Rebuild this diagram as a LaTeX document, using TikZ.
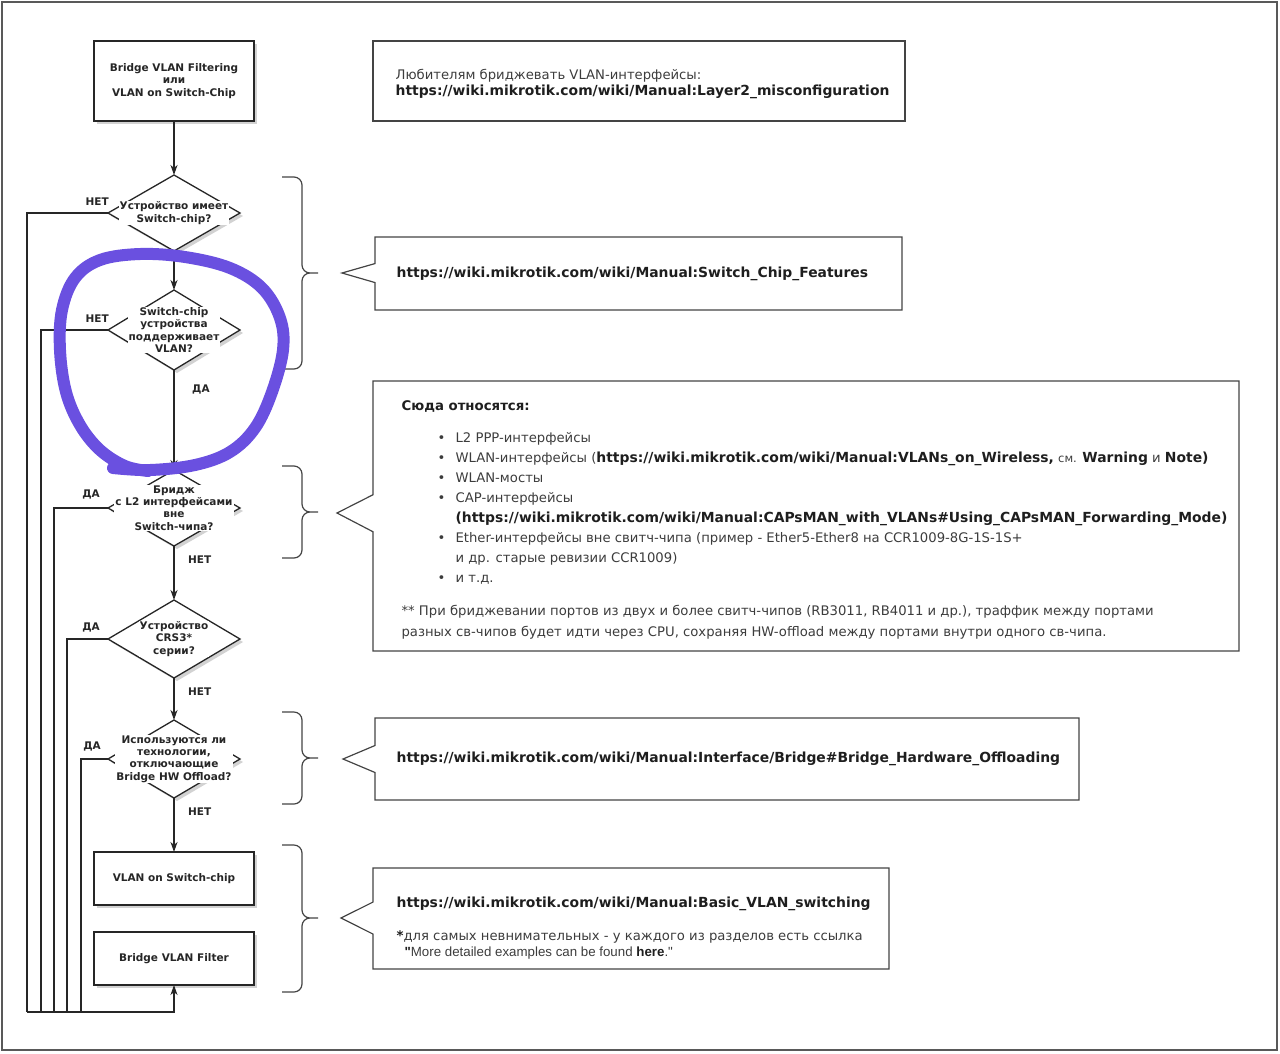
\documentclass[tikz,border=0pt]{standalone}
\usepackage{fontspec}
\setmainfont{DejaVu Sans}
\newfontfamily\arialfont{Liberation Sans}
\usetikzlibrary{positioning, arrows.meta, shapes.geometric, shapes.callouts, shadows}
\definecolor{lineGray}{HTML}{444444}
\definecolor{textGray}{HTML}{3C3C3C}
\definecolor{linkBlack}{HTML}{1E1E1E}
\definecolor{markerViolet}{HTML}{6A50E0}
\newcommand{\flowfont}{\fontsize{10.5}{12.3}\selectfont\bfseries}
\newcommand{\notefont}{\fontsize{13.2}{20}\selectfont}
\newcommand{\wlink}[1]{{\fontsize{13.9}{20}\selectfont\textbf{\color{linkBlack}#1}}}
\newcommand{\wbold}[1]{{\fontsize{13.3}{20}\selectfont\textbf{\color{linkBlack}#1}}}
\tikzstyle{process} =[draw=black!85, line width=1.5pt, outer sep=0pt, fill=white, minimum width=160pt, align=center, font=\flowfont, text=black!85, drop shadow={shadow xshift=3pt, shadow yshift=-3pt, fill=black!35, opacity=0.5}]
\tikzstyle{decision} =[diamond, draw=black!85, line width=1.3pt, outer sep=0pt, fill=white, minimum width=132pt, minimum height=78pt, inner sep=0pt, drop shadow={shadow xshift=3pt, shadow yshift=-3pt, fill=black!35, opacity=0.5}]
\tikzstyle{dtext} =[fill=white, inner sep=1pt, align=center, font=\flowfont, text=black!85]
\tikzstyle{answer} =[inner sep=0pt, font=\flowfont, text=black!85]
\tikzstyle{flow} =[-{Stealth[length=10pt, width=7pt, inset=3pt]}, line width=1.2pt, black!85]
\tikzstyle{wire} =[line width=1.2pt, black!85]
\tikzstyle{note} =[draw=lineGray, line width=1.2pt]
\tikzstyle{notetext} =[inner sep=0pt, align=left, font=\notefont, text=textGray]
\tikzstyle{curly} =[draw=lineGray, line width=1.2pt, rounded corners=8pt]

\begin{document}
\begin{tikzpicture}[x=1pt, y=-1pt]
\useasboundingbox (0,0) rectangle (1280,1053);
\draw[draw=black!65, line width=1.5pt] (2,2) rectangle (1277,1050);

\node (start) [process, minimum height=80pt] at (174,81) {Bridge VLAN Filtering\\или\\VLAN on Switch-Chip};

\node (hasChip) [decision, minimum height=76pt, below=54pt of start] {};
\node (chipVlan) [decision, minimum height=80pt, below=39pt of hasChip] {};
\node (bridgeL2) [decision, minimum height=76pt, below=100pt of chipVlan] {};
\node (crsSeries) [decision, below=54pt of bridgeL2] {};
\node (hwOffload) [decision, below=42pt of crsSeries] {};

\node (vlanChip) [process, minimum height=53pt, below=54pt of hwOffload] {VLAN on Switch-chip};
\node (vlanFilter) [process, minimum height=53pt, below=27pt of vlanChip] {Bridge VLAN Filter};

\draw[flow] (start) -- (hasChip);
\draw[flow] (hasChip) -- (chipVlan);
\draw[flow] (chipVlan) -- (bridgeL2);
\draw[flow] (bridgeL2) -- (crsSeries);
\draw[flow] (crsSeries) -- (hwOffload);
\draw[flow] (hwOffload) -- (vlanChip);

% return lines to Bridge VLAN Filter
\coordinate (busA) at (27,1012);
\coordinate (busB) at (41,1012);
\coordinate (busC) at (54,1012);
\coordinate (busD) at (67,1012);
\coordinate (busE) at (81,1012);
\draw[wire] (hasChip.west) -| (busA);
\draw[wire] (chipVlan.west) -| (busB);
\draw[wire] (bridgeL2.west) -| (busC);
\draw[wire] (crsSeries.west) -| (busD);
\draw[wire] (hwOffload.west) -| (busE);
\draw[flow] (busA) -| (vlanFilter.south);

\node (hasChipText) [dtext] at (hasChip) {Устройство имеет\\Switch-chip?};
\node (chipVlanText) [dtext] at (chipVlan) {Switch-chip\\устройства\\поддерживает\\VLAN?};
\node (bridgeL2Text) [dtext] at (bridgeL2) {Бридж\\с L2 интерфейсами\\вне\\Switch-чипа?};
\node (crsSeriesText) [dtext] at (crsSeries) {Устройство\\CRS3*\\серии?};
\node (hwOffloadText) [dtext] at (hwOffload) {Используются ли\\технологии,\\отключающие\\Bridge HW Offload?};

\node [answer, above left=7pt and -1pt of hasChip.west] {НЕТ};
\node [answer, above left=7pt and -1pt of chipVlan.west] {НЕТ};
\node [answer, above left=9pt and 8pt of bridgeL2.west] {ДА};
\node [answer, above left=7pt and 8pt of crsSeries.west] {ДА};
\node [answer, above left=8pt and 7pt of hwOffload.west] {ДА};
\node [answer, below right=15pt and 18pt of chipVlan.south] {ДА};
\node [answer, below right=10pt and 14pt of bridgeL2.south] {НЕТ};
\node [answer, below right=10pt and 14pt of crsSeries.south] {НЕТ};
\node [answer, below right=10pt and 14pt of hwOffload.south] {НЕТ};

% braces
\draw[curly] (282,177) -| (302,273) -- (318,273) (282,369) -| (302,273) -- (318,273);
\draw[curly] (282,466) -| (302,512) -- (318,512) (282,558) -| (302,512) -- (318,512);
\draw[curly] (282,712) -| (302,758) -- (318,758) (282,804) -| (302,758) -- (318,758);
\draw[curly] (282,845) -| (302,918) -- (318,918) (282,992) -| (302,918) -- (318,918);

% notes
\node (loopNote) [note, minimum width=532pt, minimum height=80pt] at (639,81) {};
\node (loopNoteText) [notetext, anchor=west] at ([xshift=23pt, yshift=-3pt]loopNote.west) {Любителям бриджевать VLAN-интерфейсы:\\[-4pt]\wlink{https://wiki.mikrotik.com/wiki/Manual:Layer2\_misconfiguration}};

\coordinate (chipTip) at (342,273);
\node (chipNote) [note, rectangle callout, minimum width=527pt, minimum height=73pt, callout absolute pointer={(chipTip)}, callout pointer width=19pt] at (638.5,273.5) {};
\node (chipNoteText) [notetext, right=22pt of chipNote.west] {\wlink{https://wiki.mikrotik.com/wiki/Manual:Switch\_Chip\_Features}};

\coordinate (relTip) at (337,513);
\node (relNote) [note, rectangle callout, minimum width=866pt, minimum height=270pt, callout absolute pointer={(relTip)}, callout pointer width=37pt] at (806,516) {};
\node (relNoteText) [notetext, anchor=north west] at ([xshift=29pt, yshift=-20pt]relNote.north west) {\wbold{Сюда относятся:}\\[12pt]
\hspace*{36pt}\makebox[18pt][l]{\textbullet}L2 PPP-интерфейсы\\
\hspace*{36pt}\makebox[18pt][l]{\textbullet}WLAN-интерфейсы (\wlink{https://wiki.mikrotik.com/wiki/Manual:VLANs\_on\_Wireless,} {\fontsize{11.5}{20}\selectfont см.} \wlink{Warning} и \wlink{Note)}\\
\hspace*{36pt}\makebox[18pt][l]{\textbullet}WLAN-мосты\\
\hspace*{36pt}\makebox[18pt][l]{\textbullet}CAP-интерфейсы\\
\hspace*{54pt}\wlink{(https://wiki.mikrotik.com/wiki/Manual:CAPsMAN\_with\_VLANs\#Using\_CAPsMAN\_Forwarding\_Mode)}\\
\hspace*{36pt}\makebox[18pt][l]{\textbullet}Ether-интерфейсы вне свитч-чипа (пример - Ether5-Ether8 на CCR1009-8G-1S-1S+\\
\hspace*{54pt}и др. старые ревизии CCR1009)\\
\hspace*{36pt}\makebox[18pt][l]{\textbullet}и т.д.\\[13pt]
** При бриджевании портов из двух и более свитч-чипов (RB3011, RB4011 и др.), траффик между портами\\[1pt]
разных св-чипов будет идти через CPU, сохраняя HW-offload между портами внутри одного св-чипа.};

\coordinate (offloadTip) at (343,759);
\node (offloadNote) [note, rectangle callout, minimum width=704pt, minimum height=82pt, callout absolute pointer={(offloadTip)}, callout pointer width=27pt] at (727,759) {};
\node (offloadNoteText) [notetext, right=22pt of offloadNote.west] {\wlink{https://wiki.mikrotik.com/wiki/Manual:Interface/Bridge\#Bridge\_Hardware\_Offloading}};

\coordinate (basicTip) at (341,918);
\node (basicNote) [note, rectangle callout, minimum width=516pt, minimum height=101pt, callout absolute pointer={(basicTip)}, callout pointer width=32pt] at (631,918.5) {};
\node (basicNoteText) [notetext, anchor=west] at ([xshift=24pt, yshift=-10pt]basicNote.west) {\wlink{https://wiki.mikrotik.com/wiki/Manual:Basic\_VLAN\_switching}\\[13pt]
\wbold{*}для самых невнимательных - у каждого из разделов есть ссылка\\[-4pt]
\hspace*{8pt}{\arialfont\fontsize{13.3}{20}\selectfont\textbf{\color{linkBlack}"}More detailed examples can be found \textbf{\color{linkBlack}here}."}};

% hand-drawn marker
\draw[markerViolet, line width=12pt, line cap=round, line join=round] plot[smooth, tension=0.6] coordinates {(113,468) (150,470) (195,465) (230,452) (255,428) (272,392) (283,350) (280,318) (262,288) (230,268) (185,257) (140,254) (100,260) (75,278) (62,310) (60,350) (66,392) (80,425) (100,450) (125,466) (148,471)};

\end{tikzpicture}
\end{document}
